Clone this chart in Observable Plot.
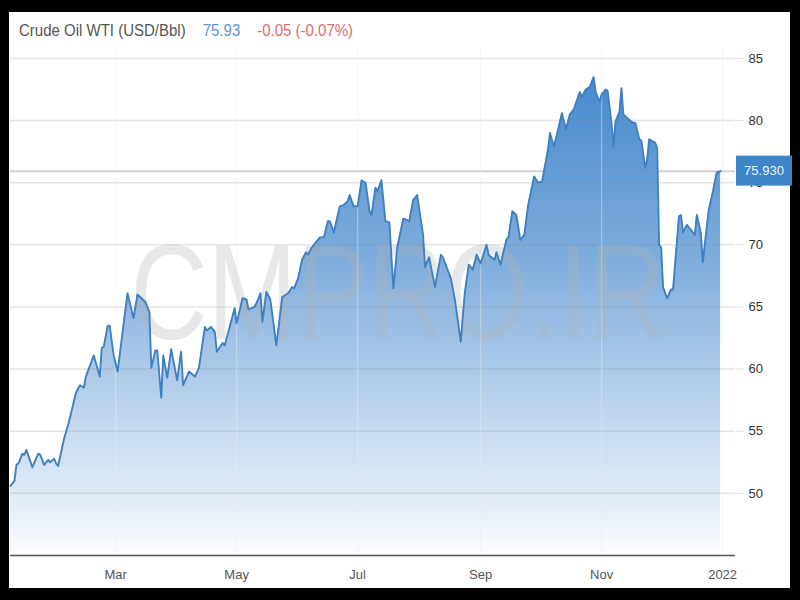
<!DOCTYPE html>
<html><head><meta charset="utf-8">
<script src="https://cdn.jsdelivr.net/npm/d3@7"></script>
<script src="https://cdn.jsdelivr.net/npm/@observablehq/plot@0.6"></script>
<style>
html,body{margin:0;padding:0;background:#000;width:800px;height:600px;overflow:hidden;}
#frame{position:absolute;left:9px;top:12px;width:781px;height:576px;background:#fff;}
#chart{position:absolute;left:0;top:0;}
#title{position:absolute;left:19px;top:21px;font:15px "Liberation Sans",Arial,sans-serif;white-space:pre;transform-origin:0 50%;transform:scaleY(1.15);}
#title span{margin-right:17px;}
</style></head><body>
<div id="frame"></div>
<div id="title"><span style="color:#555">Crude Oil WTI (USD/Bbl)</span><span style="color:#5b95cc">75.93</span><span style="color:#e06a6a">-0.05 (-0.07%)</span></div>
<div id="chart"></div>
<script>
const dates = ["2021-01-07","2021-01-09","2021-01-10","2021-01-11","2021-01-13","2021-01-14","2021-01-15","2021-01-18","2021-01-21","2021-01-22","2021-01-24","2021-01-26","2021-01-27","2021-01-29","2021-01-30","2021-01-31",
"2021-02-03","2021-02-05","2021-02-06","2021-02-09","2021-02-11","2021-02-13","2021-02-14","2021-02-18","2021-02-21","2021-02-22","2021-02-23","2021-02-25","2021-02-26","2021-02-28",
"2021-03-02","2021-03-07","2021-03-10","2021-03-12","2021-03-16","2021-03-18","2021-03-19","2021-03-21","2021-03-22","2021-03-24","2021-03-25","2021-03-27","2021-03-29",
"2021-04-01","2021-04-03","2021-04-04","2021-04-07","2021-04-10","2021-04-12","2021-04-15","2021-04-16","2021-04-18","2021-04-20","2021-04-21","2021-04-24","2021-04-25","2021-04-30",
"2021-05-01","2021-05-04","2021-05-06","2021-05-07","2021-05-10","2021-05-11","2021-05-13","2021-05-14","2021-05-16","2021-05-18","2021-05-21","2021-05-24","2021-05-27","2021-05-29","2021-05-30",
"2021-06-01","2021-06-03","2021-06-05","2021-06-06","2021-06-08","2021-06-10","2021-06-12","2021-06-14","2021-06-16","2021-06-17","2021-06-19","2021-06-22","2021-06-24","2021-06-26","2021-06-27","2021-06-29",
"2021-07-01","2021-07-03","2021-07-05","2021-07-07","2021-07-08","2021-07-10","2021-07-11","2021-07-13","2021-07-15","2021-07-17","2021-07-19","2021-07-21","2021-07-24","2021-07-26","2021-07-27","2021-07-29","2021-07-31",
"2021-08-03","2021-08-04","2021-08-06","2021-08-09","2021-08-12","2021-08-13","2021-08-17","2021-08-19","2021-08-22","2021-08-24","2021-08-26","2021-08-28","2021-08-30",
"2021-09-01","2021-09-04","2021-09-05","2021-09-08","2021-09-09","2021-09-11","2021-09-14","2021-09-15","2021-09-17","2021-09-19","2021-09-21","2021-09-23","2021-09-25","2021-09-28","2021-09-30",
"2021-10-02","2021-10-05","2021-10-06","2021-10-08","2021-10-12","2021-10-14","2021-10-16","2021-10-18","2021-10-21","2021-10-22","2021-10-24","2021-10-26","2021-10-28","2021-10-29","2021-10-31",
"2021-11-01","2021-11-03","2021-11-04","2021-11-06","2021-11-07","2021-11-08","2021-11-10","2021-11-11","2021-11-12","2021-11-14","2021-11-16","2021-11-18","2021-11-20","2021-11-21","2021-11-23","2021-11-24","2021-11-25","2021-11-28","2021-11-29","2021-11-30",
"2021-12-01","2021-12-02","2021-12-04","2021-12-06","2021-12-07","2021-12-10","2021-12-11","2021-12-12","2021-12-14","2021-12-16","2021-12-18","2021-12-19","2021-12-21","2021-12-22","2021-12-25","2021-12-27","2021-12-29","2021-12-31"];
const prices = [50.6,51.0,52.3,52.4,53.2,53.1,53.5,52.1,53.2,53.1,52.3,52.7,52.5,52.8,52.4,52.2,
54.4,55.5,56.1,58.1,58.7,58.5,59.4,61.1,59.4,61.7,61.8,63.5,63.5,61.1,
59.8,66.1,64.1,66.0,65.4,64.6,60.1,61.5,61.5,57.7,61.1,59.3,61.6,
59.1,61.4,58.7,59.8,59.4,60.1,63.4,63.1,63.4,63.0,61.4,62.1,61.9,64.9,
63.7,65.7,65.6,64.8,65.0,65.3,66.1,63.8,66.2,65.6,61.9,65.8,66.1,66.6,66.5,
67.3,68.8,69.4,69.2,69.8,70.2,70.6,70.6,71.9,71.9,71.0,73.1,73.2,73.5,74.0,73.1,
73.1,75.2,75.0,72.7,72.4,74.6,74.3,75.2,71.9,71.8,66.5,69.8,72.1,72.0,71.9,73.6,74.0,
70.8,68.2,69.0,66.6,69.2,69.0,67.3,65.6,62.2,66.1,68.4,68.0,69.2,
68.5,70.0,69.2,68.8,69.4,68.4,70.4,70.6,72.7,72.4,70.4,70.8,73.2,75.5,75.0,
75.1,77.7,79.0,77.9,80.6,79.3,80.5,80.9,82.3,81.9,82.5,82.7,83.5,82.3,81.5,
82.1,82.5,82.4,79.8,77.9,79.9,80.7,82.6,80.5,80.2,79.9,79.8,78.5,78.4,76.2,76.9,78.5,78.2,77.8,70.0,
69.8,66.6,65.7,66.4,66.4,72.3,72.4,71.0,71.6,71.2,70.8,72.4,71.0,68.6,72.8,74.2,75.8,75.93];
const yTicks = [50,55,60,65,70,75,80,85];
const xTickDates = ["2021-03-01","2021-05-01","2021-07-01","2021-09-01","2021-11-01","2022-01-01"];
const xDomain = ["2021-01-07","2022-01-07T12:00Z"];
const yDomain = [45, 86.04];
const lastLabel = "75.930";
const watermark = "CMPRO.IR";

const data = dates.map((d, i) => ({date: new Date(d), price: prices[i]}));
const xTicks = xTickDates.map(d => new Date(d));
const last = data[data.length - 1];
const font = "'Liberation Sans', Arial, sans-serif";

const plot = Plot.plot({
  width: 800, height: 600,
  marginLeft: 10, marginRight: 65, marginTop: 45, marginBottom: 45,
  style: {background: "transparent", fontFamily: font, fontSize: "13px", overflow: "visible"},
  x: {type: "utc", domain: xDomain.map(d => new Date(d)), label: null},
  y: {domain: yDomain, label: null},
  marks: [
    Plot.ruleY([last.price], {stroke: "#d2d2d2", strokeWidth: 2}),
    Plot.areaY(data, {x: "date", y1: yDomain[0], y2: "price", fill: "url(#oilGrad)"}),
    Plot.gridY(yTicks, {stroke: "#888", strokeOpacity: 0.22, strokeWidth: 1.5}),
    Plot.gridX(xTicks, {stroke: "#ffffff", strokeOpacity: 0.22, strokeWidth: 1.5}),
    Plot.gridX(xTicks, {stroke: "#e0e0e0", strokeOpacity: 0.25, strokeWidth: 1}),
    Plot.text([watermark], {frameAnchor: "middle", dx: 25, dy: -5, fontSize: 107, fill: "#b4b4b4", fillOpacity: 0.3}),
    Plot.lineY(data, {x: "date", y: "price", stroke: "#3f80c2", strokeWidth: 1.9}),
    Plot.axisY(yTicks, {anchor: "right", tickSize: 8, tickPadding: 5, stroke: "#e0e0e0", fill: "#333", label: null}),
    Plot.axisX(xTicks, {anchor: "bottom", tickSize: 0, tickPadding: 14, fill: "#555", label: null,
      tickFormat: d => d.getUTCMonth() === 0 ? String(d.getUTCFullYear()) : d3.utcFormat("%b")(d)}),
    Plot.ruleY([yDomain[0]], {stroke: "#555", strokeWidth: 1.5})
  ]
});

const svg = d3.select(plot);
const ys = plot.scale("y"), xs = plot.scale("x");
const defs = svg.insert("defs", ":first-child");
const grad = defs.append("linearGradient").attr("id", "oilGrad")
  .attr("gradientUnits", "userSpaceOnUse")
  .attr("x1", 0).attr("x2", 0)
  .attr("y1", ys.apply(84)).attr("y2", ys.apply(yDomain[0]));
[[0, "#4587cc"], [0.4, "#80aedd"], [0.72, "#c2d7ee"], [0.9, "#e5eef8"], [1, "#fcfdff"]]
  .forEach(([o, c]) => grad.append("stop").attr("offset", o).attr("stop-color", c));

const yy = ys.apply(last.price);
const xr = xs.range[1];
svg.append("rect").attr("x", xr + 1).attr("y", yy - 15).attr("width", 56).attr("height", 30).attr("fill", "#3d85c6");
svg.append("text").attr("x", xr + 29).attr("y", yy).attr("dy", "0.35em").attr("text-anchor", "middle")
  .attr("fill", "#eef4fb").attr("font-size", 13).attr("font-family", font).text(lastLabel);

document.getElementById("chart").appendChild(plot);

// stretch the watermark vertically about its own anchor point
svg.selectAll("text").filter(function() { return this.textContent === watermark; })
  .each(function() {
    const t = this.getAttribute("transform");
    if (t) {
      this.setAttribute("transform", t + " scale(1,1.26)");
    } else {
      const y = +this.getAttribute("y") || 0;
      this.setAttribute("transform", `translate(0,${y}) scale(1,1.26) translate(0,${-y})`);
    }
  });
</script>
</body></html>
